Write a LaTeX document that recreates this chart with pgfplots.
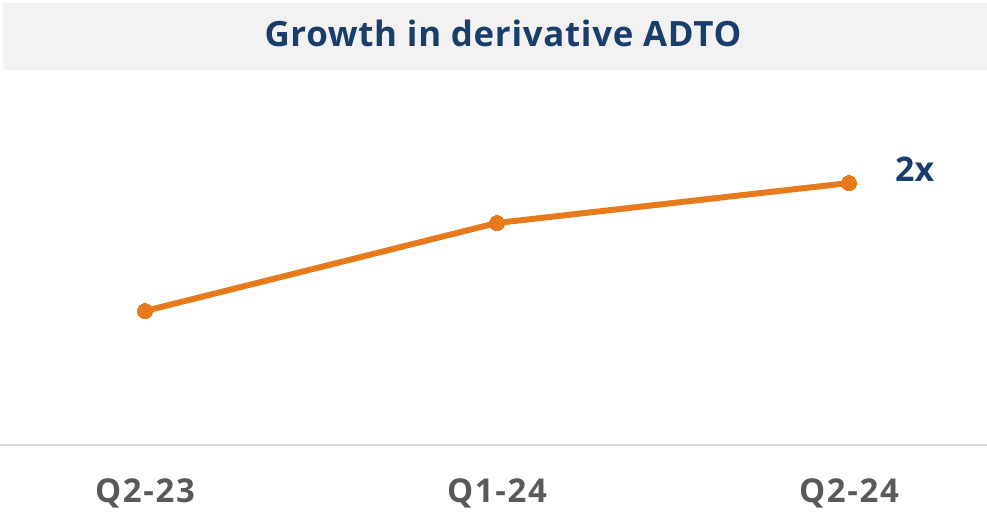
\documentclass[border=0pt]{standalone}
\usepackage{pgfplots}
\pgfplotsset{compat=1.18}
\usepackage{fontspec}
\setmainfont{Open Sans}
\definecolor{titlebg}{HTML}{F2F2F2}
\definecolor{titlefg}{HTML}{1A3E6B}
\definecolor{lineor}{HTML}{E87A1E}
\definecolor{tickgray}{HTML}{595959}
\definecolor{basegray}{HTML}{D9D9D9}
\begin{document}
\begin{tikzpicture}
\begin{axis}[
  scale only axis, width=987bp, height=375bp,
  xmin=-0.4119, xmax=2.392, ymin=0, ymax=2.7985,
  axis line style={draw=none},
  axis x line*=bottom,
  axis y line=none,
  xtick={0,1,2}, xticklabels={Q2-23,Q1-24,Q2-24},
  xticklabel style={font=\fontsize{33}{38}\selectfont\bfseries\addfontfeature{LetterSpace=5}, text=tickgray, anchor=base, inner sep=0pt, yshift=-57bp},
  major tick length=0pt,
  clip=false,
]
\path[use as bounding box] (axis cs:-0.4119,-0.5) rectangle (axis cs:2.392,3.3209);
\fill[titlebg] (axis cs:-0.4034,2.7985) rectangle (axis cs:2.392,3.2985);
\node[font=\fontsize{35}{40}\selectfont\bfseries\addfontfeature{LetterSpace=2}, text=titlefg, anchor=base, inner sep=0pt] at (axis cs:1.017,2.9724) {Growth in derivative ADTO};
\addplot[basegray, line width=2bp, forget plot] coordinates {(-0.4119,0) (2.392,0)};
\addplot[lineor, line width=6bp, mark=*, mark size=7.5bp, mark options={fill=lineor, draw=lineor, line width=0bp}] coordinates {(0,1.00) (1,1.657) (2,1.955)};
\node[font=\fontsize{34}{40}\selectfont\bfseries, text=titlefg, anchor=base west, inner sep=0pt] at (axis cs:2.1307,1.965) {2x};
\end{axis}
\end{tikzpicture}
\end{document}
